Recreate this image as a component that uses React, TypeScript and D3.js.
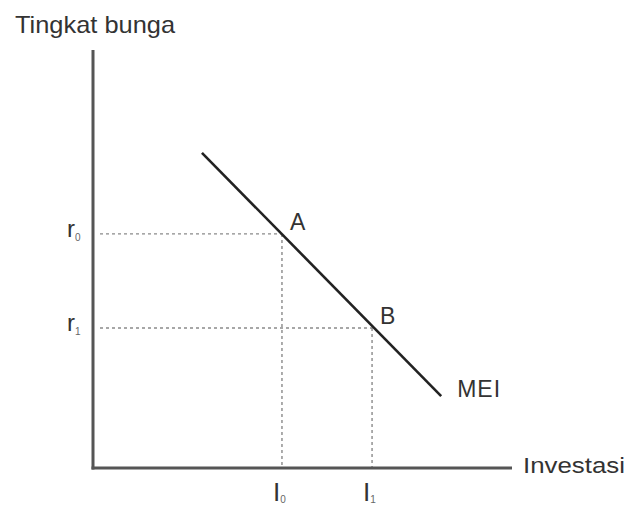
import React from "react";
import * as d3 from "d3";

// Data (abstract units 0..100 on both axes)
const meiLine = [
  { inv: 26.0, rate: 75.4 },
  { inv: 83.1, rate: 17.2 },
];
const rateLevels = [
  { label: "r", sub: "0", value: 56.0 },
  { label: "r", sub: "1", value: 33.5 },
];
const invLevels = [
  { label: "I", sub: "0", value: 45.1 },
  { label: "I", sub: "1", value: 66.6 },
];
const pointLabels = ["A", "B"];
const yTitle = "Tingkat bunga";
const xTitle = "Investasi";
const curveLabel = "MEI";

const W = 628;
const H = 506;

export default function App() {
  const x = d3.scaleLinear().domain([0, 100]).range([93, 512]);
  const y = d3.scaleLinear().domain([0, 100]).range([468, 50]);
  const line = d3
    .line<{ inv: number; rate: number }>()
    .x((d) => x(d.inv))
    .y((d) => y(d.rate));
  const font = "'Liberation Sans', Arial, sans-serif";
  const textColor = "#333";
  const end = meiLine[meiLine.length - 1];

  return (
    <svg
      width={W}
      height={H}
      style={{ position: "absolute", left: 0, top: 0, background: "#fff" }}
      fontFamily={font}
    >
      {/* dotted guide lines */}
      {rateLevels.map((r, i) => (
        <g key={"g" + i}>
          <line
            x1={x(0) + 7}
            x2={x(invLevels[i].value)}
            y1={y(r.value)}
            y2={y(r.value)}
            stroke="#8a8a8a"
            strokeWidth={1.4}
            strokeDasharray="3 3"
          />
          <line
            x1={x(invLevels[i].value)}
            x2={x(invLevels[i].value)}
            y1={y(r.value)}
            y2={y(0)}
            stroke="#8a8a8a"
            strokeWidth={1.4}
            strokeDasharray="3 3"
          />
        </g>
      ))}
      {/* axes */}
      <line x1={x(0)} x2={x(0)} y1={y(100)} y2={y(0) + 1.5} stroke="#555" strokeWidth={3} />
      <line x1={x(0) - 1.5} x2={x(100)} y1={y(0)} y2={y(0)} stroke="#555" strokeWidth={3} />
      {/* MEI line */}
      <path d={line(meiLine) || ""} fill="none" stroke="#222" strokeWidth={2.6} />
      {/* axis titles */}
      <text x={15} y={33} fontSize={24} fill={textColor} textLength={160} lengthAdjust="spacingAndGlyphs">
        {yTitle}
      </text>
      <text x={x(100) + 11} y={y(0) + 5} fontSize={22} fill={textColor} textLength={102} lengthAdjust="spacingAndGlyphs">
        {xTitle}
      </text>
      {/* r labels */}
      {rateLevels.map((r, i) => (
        <text key={"r" + i} x={x(0) - 26} y={y(r.value) + 3} fontSize={24} fill={textColor}>
          {r.label}
          <tspan fontSize={10} dy={4} fill="#666">
            {r.sub}
          </tspan>
        </text>
      ))}
      {/* I labels */}
      {invLevels.map((v, i) => (
        <text key={"i" + i} x={x(v.value) - 9} y={y(0) + 33} fontSize={26} fill={textColor}>
          {v.label}
          <tspan fontSize={10} dy={2} fill="#666">
            {v.sub}
          </tspan>
        </text>
      ))}
      {/* point labels */}
      {pointLabels.map((p, i) => (
        <text
          key={"p" + i}
          x={x(invLevels[i].value) + 8}
          y={y(rateLevels[i].value) - 4}
          fontSize={23}
          fill={textColor}
        >
          {p}
        </text>
      ))}
      {/* curve label */}
      <text x={x(end.inv) + 16} y={y(end.rate) + 1} fontSize={23} fill={textColor} letterSpacing={1}>
        {curveLabel}
      </text>
    </svg>
  );
}
